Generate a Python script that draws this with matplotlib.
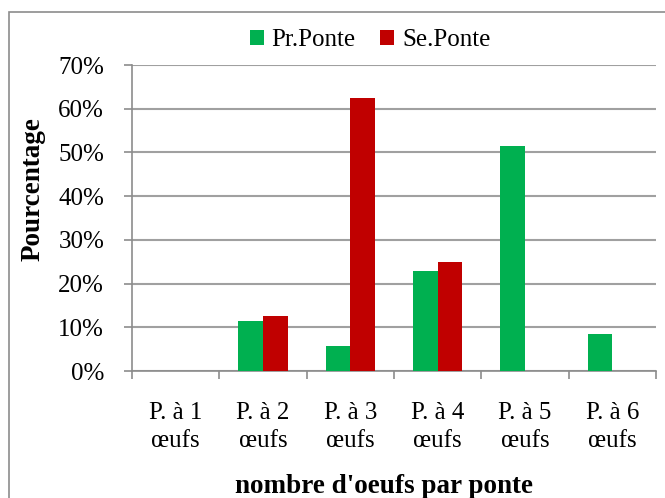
import matplotlib.pyplot as plt
import numpy as np
from matplotlib.patches import Rectangle

categories = ["P. à 1\nœufs", "P. à 2\nœufs", "P. à 3\nœufs",
              "P. à 4\nœufs", "P. à 5\nœufs", "P. à 6\nœufs"]
pr_ponte = [0, 11.43, 5.71, 22.86, 51.43, 8.57]
se_ponte = [0, 12.5, 62.5, 25.0, 0, 0]

plt.rcParams['font.family'] = ['Liberation Serif', 'DejaVu Serif']

W, H = 665, 498
fig = plt.figure(figsize=(W / 100, H / 100), dpi=100)
ax = fig.add_axes([132 / W, (H - 371) / H, 524 / W, 306 / H])

# cadre gris autour du graphique
fig.patches.append(Rectangle((8.5 / W, -0.1), 1.2, (H - 12) / H + 0.1,
                             transform=fig.transFigure, fill=False,
                             edgecolor='#8c8c8c', linewidth=1.2))

x = np.arange(len(categories))
w = 0.283
ax.bar(x - w / 2, pr_ponte, w, color='#00b050', label='Pr.Ponte', zorder=3)
ax.bar(x + w / 2, se_ponte, w, color='#c00000', label='Se.Ponte', zorder=3)

ax.set_xlim(-0.5, len(categories) - 0.5)
ax.set_ylim(0, 70)
ax.set_yticks(np.arange(0, 71, 10))
ax.set_yticklabels([f"{v}%" for v in range(0, 71, 10)], fontsize=18)
ax.set_xticks(x)
ax.set_xticklabels(categories, fontsize=18, linespacing=1.35)
ax.set_xticks(np.arange(-0.5, len(categories)), minor=True)
ax.tick_params(axis='x', which='major', length=0, pad=22)
ax.tick_params(axis='x', which='minor', length=6, color='#8c8c8c', width=1.2)
ax.tick_params(axis='y', length=6, color='#8c8c8c', width=1.2, pad=14)

ax.grid(axis='y', color='#a0a0a0', linewidth=1.5, zorder=0)
for s in ['top', 'right']:
    ax.spines[s].set_visible(False)
for s in ['left', 'bottom']:
    ax.spines[s].set_color('#8c8c8c')
    ax.spines[s].set_linewidth(1.2)

fig.text(33 / W, 1 - 189 / H, "Pourcentage", rotation=90, fontsize=19.5,
         fontweight='bold', ha='center', va='center')
fig.text(384 / W, 1 - 493 / H, "nombre d'oeufs par ponte", fontsize=19.5,
         fontweight='bold', ha='center', va='baseline')

fig.legend(loc='center', bbox_to_anchor=(370 / W, 1 - 40 / H), ncol=2,
           frameon=False, fontsize=18, handlelength=0.56, handleheight=0.56,
           handletextpad=0.3, columnspacing=1.0, borderpad=0)

fig.savefig("out.png", dpi=100)
